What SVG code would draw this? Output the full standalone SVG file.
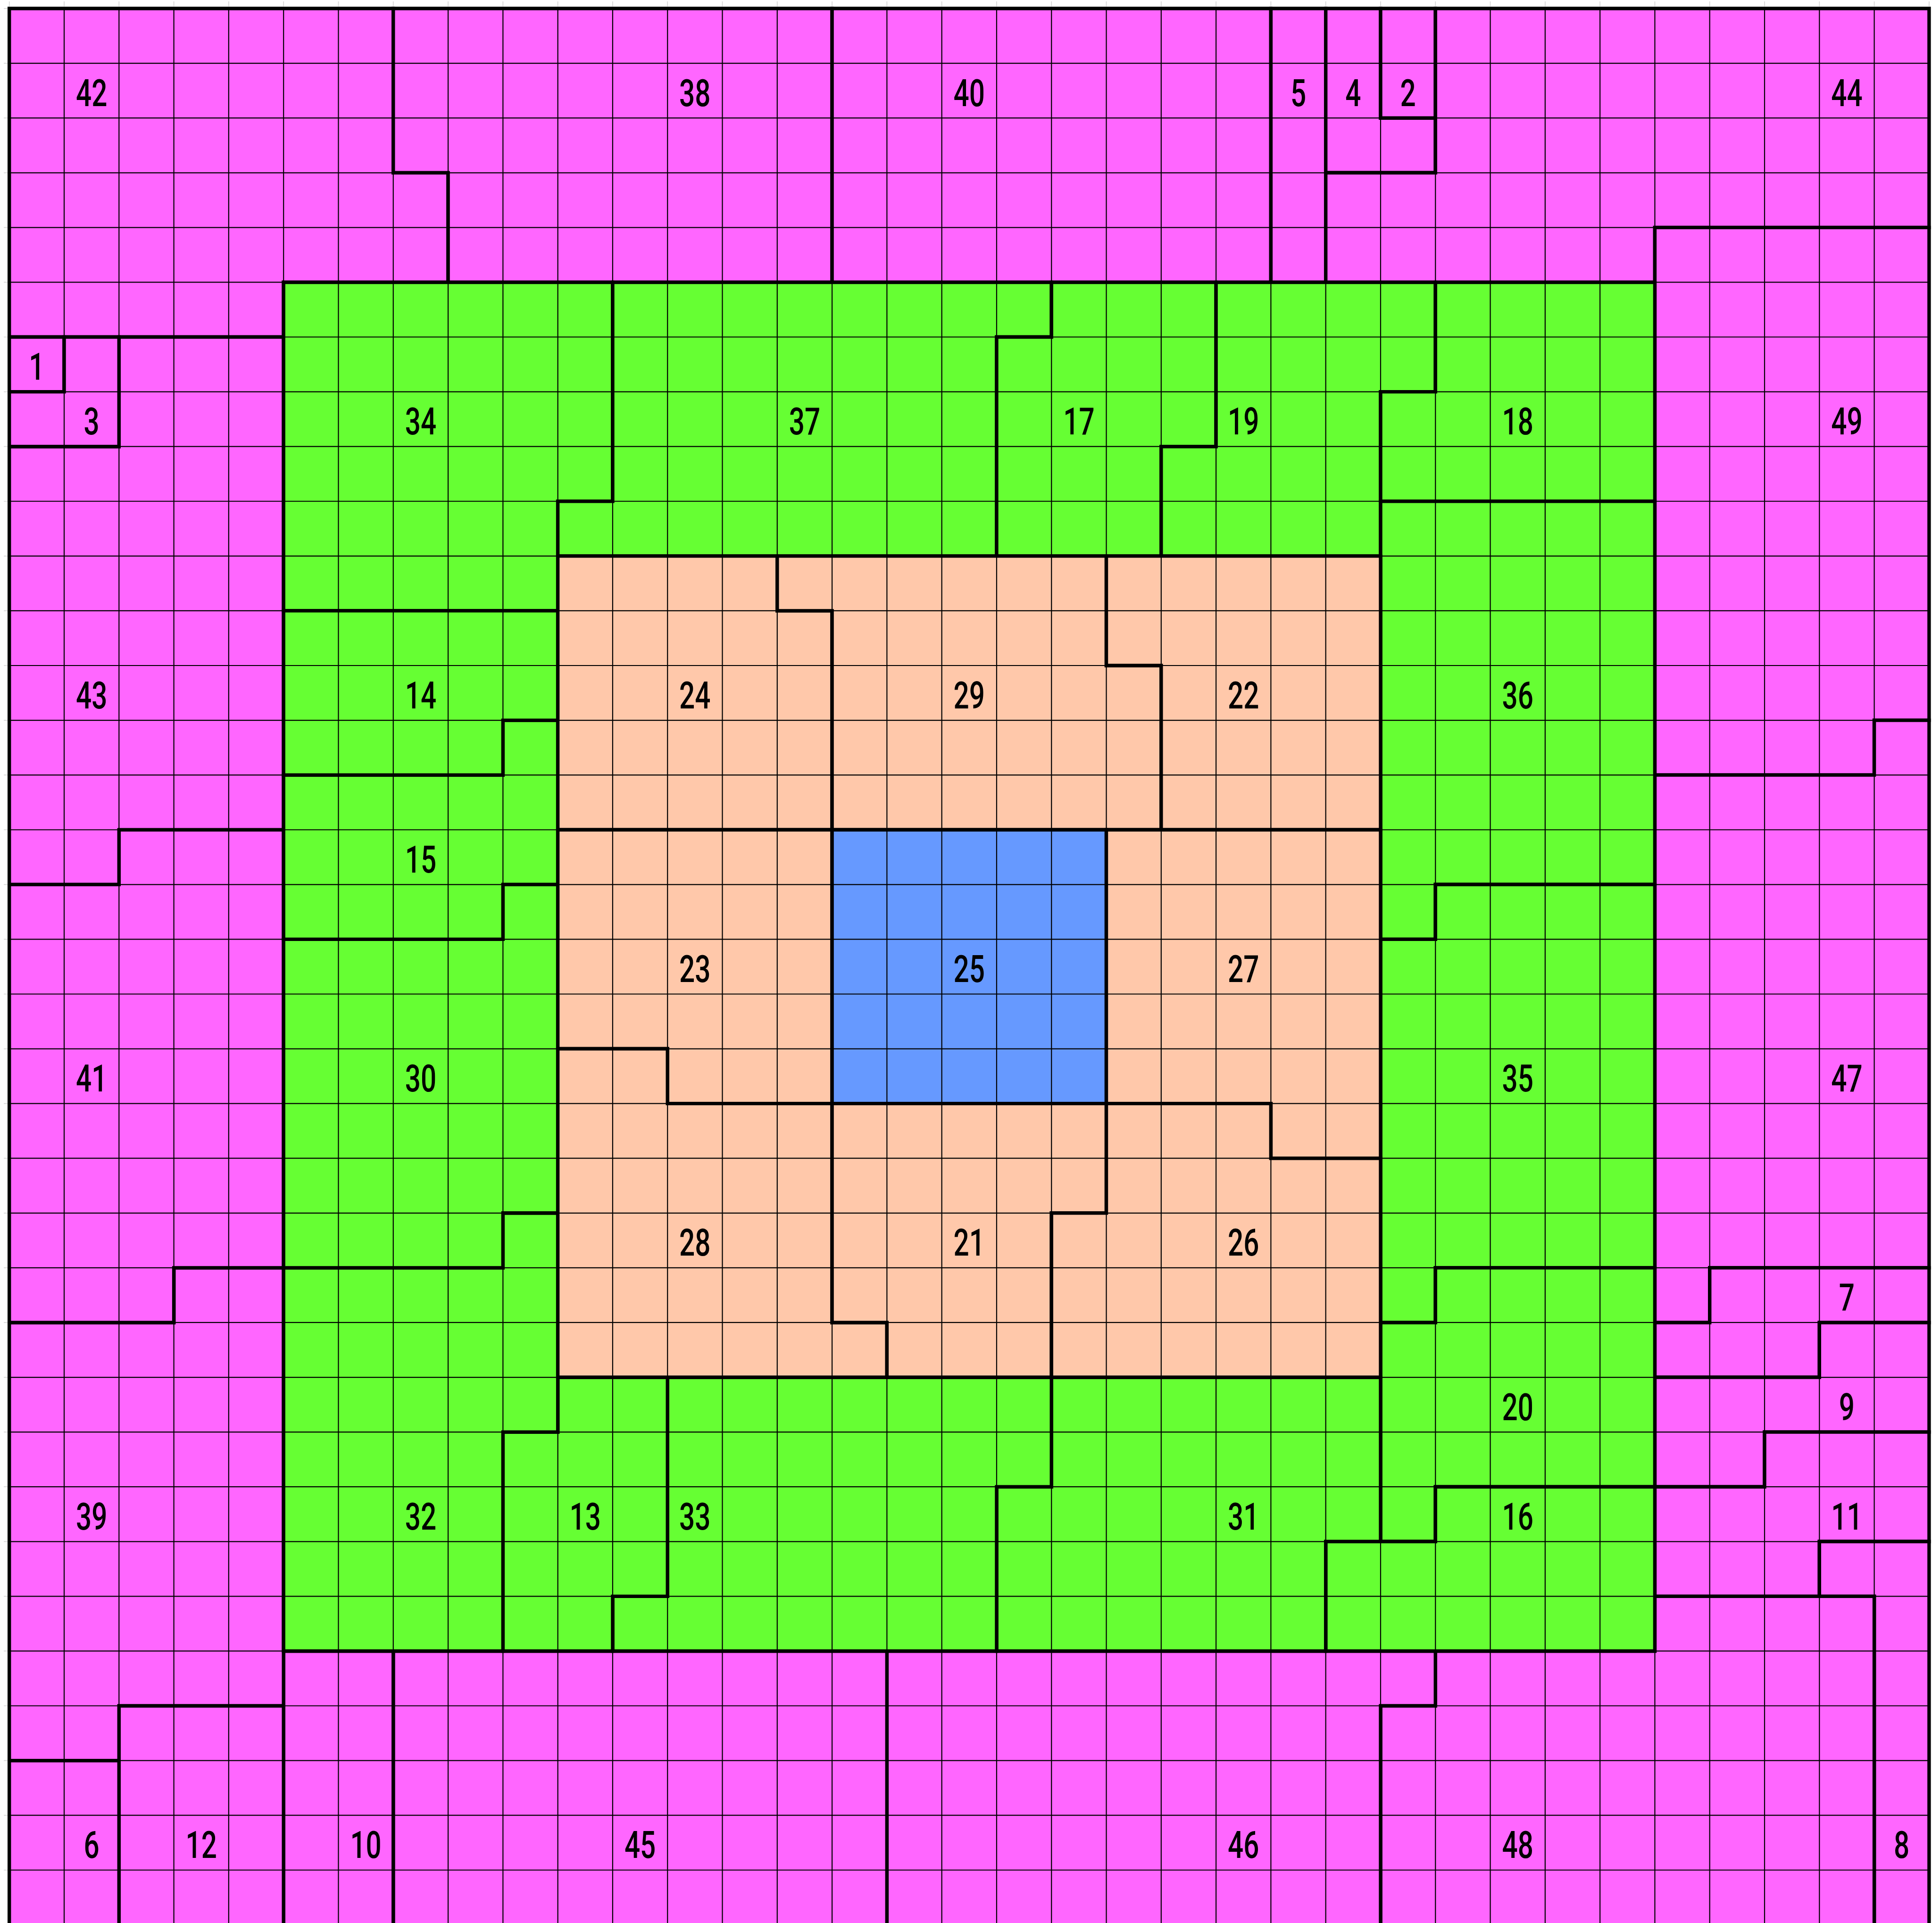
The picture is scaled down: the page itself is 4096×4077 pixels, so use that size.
<svg xmlns="http://www.w3.org/2000/svg" width="4096" height="4077" viewBox="0 0 4096 4077">
<style>
.p{stroke:#000;stroke-width:7.4;stroke-linejoin:miter;vector-effect:non-scaling-stroke}
.m{fill:#FF66FF}.g{fill:#66FF33}.o{fill:#FFC8AA}.b{fill:#6699FF}
.t{font-family:Roboto,"Liberation Sans",Arial,sans-serif;font-weight:500;font-size:80px;fill:#000;text-anchor:middle}
.gl{fill:none;stroke:#000;stroke-width:2.2;vector-effect:non-scaling-stroke}
.tk{fill:none;stroke:#d6d6d6;stroke-width:1.7;vector-effect:non-scaling-stroke}
</style>
<rect width="4096" height="4077" fill="#fff"/>
<g id="regions">
<g id="r42"><polygon class="p m" transform="matrix(116.29 0 0 116.08 19.72 18.04)" points="0,0 7,0 7,3 8,3 8,5 5,5 5,6 0,6"/><text class="t" transform="translate(194.2,224.7) scale(0.73,1)">42</text></g>
<g id="r38"><polygon class="p m" transform="matrix(116.29 0 0 116.08 19.72 18.04)" points="7,0 15,0 15,5 8,5 8,3 7,3"/><text class="t" transform="translate(1473.3,224.7) scale(0.73,1)">38</text></g>
<g id="r40"><polygon class="p m" transform="matrix(116.29 0 0 116.08 19.72 18.04)" points="15,0 23,0 23,5 15,5"/><text class="t" transform="translate(2054.8,224.7) scale(0.73,1)">40</text></g>
<g id="r5"><polygon class="p m" transform="matrix(116.29 0 0 116.08 19.72 18.04)" points="23,0 24,0 24,5 23,5"/><text class="t" transform="translate(2752.5,224.7) scale(0.73,1)">5</text></g>
<g id="r4"><polygon class="p m" transform="matrix(116.29 0 0 116.08 19.72 18.04)" points="24,0 25,0 25,2 26,2 26,3 24,3"/><text class="t" transform="translate(2868.8,224.7) scale(0.73,1)">4</text></g>
<g id="r2"><polygon class="p m" transform="matrix(116.29 0 0 116.08 19.72 18.04)" points="25,0 26,0 26,2 25,2"/><text class="t" transform="translate(2985.1,224.7) scale(0.73,1)">2</text></g>
<g id="r44"><polygon class="p m" transform="matrix(116.29 0 0 116.08 19.72 18.04)" points="26,0 35,0 35,4 30,4 30,5 24,5 24,3 26,3"/><text class="t" transform="translate(3915.4,224.7) scale(0.73,1)">44</text></g>
<g id="r49"><polygon class="p m" transform="matrix(116.29 0 0 116.08 19.72 18.04)" points="30,4 35,4 35,13 34,13 34,14 30,14"/><text class="t" transform="translate(3915.4,921.1) scale(0.73,1)">49</text></g>
<g id="r47"><polygon class="p m" transform="matrix(116.29 0 0 116.08 19.72 18.04)" points="34,13 35,13 35,23 31,23 31,24 30,24 30,14 34,14"/><text class="t" transform="translate(3915.4,2314.1) scale(0.73,1)">47</text></g>
<g id="r7"><polygon class="p m" transform="matrix(116.29 0 0 116.08 19.72 18.04)" points="31,23 35,23 35,24 33,24 33,25 30,25 30,24 31,24"/><text class="t" transform="translate(3915.4,2778.4) scale(0.73,1)">7</text></g>
<g id="r9"><polygon class="p m" transform="matrix(116.29 0 0 116.08 19.72 18.04)" points="33,24 35,24 35,26 32,26 32,27 30,27 30,25 33,25"/><text class="t" transform="translate(3915.4,3010.6) scale(0.73,1)">9</text></g>
<g id="r11"><polygon class="p m" transform="matrix(116.29 0 0 116.08 19.72 18.04)" points="32,26 35,26 35,28 33,28 33,29 30,29 30,27 32,27"/><text class="t" transform="translate(3915.4,3242.7) scale(0.73,1)">11</text></g>
<g id="r8"><polygon class="p m" transform="matrix(116.29 0 0 116.08 19.72 18.04)" points="33,28 35,28 35,35 34,35 34,29 33,29"/><text class="t" transform="translate(4031.7,3939.2) scale(0.73,1)">8</text></g>
<g id="r48"><polygon class="p m" transform="matrix(116.29 0 0 116.08 19.72 18.04)" points="30,29 34,29 34,35 25,35 25,31 26,31 26,30 30,30"/><text class="t" transform="translate(3217.7,3939.2) scale(0.73,1)">48</text></g>
<g id="r46"><polygon class="p m" transform="matrix(116.29 0 0 116.08 19.72 18.04)" points="16,30 26,30 26,31 25,31 25,35 16,35"/><text class="t" transform="translate(2636.2,3939.2) scale(0.73,1)">46</text></g>
<g id="r45"><polygon class="p m" transform="matrix(116.29 0 0 116.08 19.72 18.04)" points="7,30 16,30 16,35 7,35"/><text class="t" transform="translate(1357.1,3939.2) scale(0.73,1)">45</text></g>
<g id="r10"><polygon class="p m" transform="matrix(116.29 0 0 116.08 19.72 18.04)" points="5,30 7,30 7,35 5,35"/><text class="t" transform="translate(775.6,3939.2) scale(0.73,1)">10</text></g>
<g id="r12"><polygon class="p m" transform="matrix(116.29 0 0 116.08 19.72 18.04)" points="2,31 5,31 5,35 2,35"/><text class="t" transform="translate(426.7,3939.2) scale(0.73,1)">12</text></g>
<g id="r6"><polygon class="p m" transform="matrix(116.29 0 0 116.08 19.72 18.04)" points="0,32 2,32 2,35 0,35"/><text class="t" transform="translate(194.2,3939.2) scale(0.73,1)">6</text></g>
<g id="r39"><polygon class="p m" transform="matrix(116.29 0 0 116.08 19.72 18.04)" points="3,23 5,23 5,31 2,31 2,32 0,32 0,24 3,24"/><text class="t" transform="translate(194.2,3242.7) scale(0.73,1)">39</text></g>
<g id="r41"><polygon class="p m" transform="matrix(116.29 0 0 116.08 19.72 18.04)" points="2,15 5,15 5,23 3,23 3,24 0,24 0,16 2,16"/><text class="t" transform="translate(194.2,2314.1) scale(0.73,1)">41</text></g>
<g id="r43"><polygon class="p m" transform="matrix(116.29 0 0 116.08 19.72 18.04)" points="2,6 5,6 5,15 2,15 2,16 0,16 0,8 2,8"/><text class="t" transform="translate(194.2,1501.5) scale(0.73,1)">43</text></g>
<g id="r1"><polygon class="p m" transform="matrix(116.29 0 0 116.08 19.72 18.04)" points="0,6 1,6 1,7 0,7"/><text class="t" transform="translate(77.9,805.1) scale(0.73,1)">1</text></g>
<g id="r3"><polygon class="p m" transform="matrix(116.29 0 0 116.08 19.72 18.04)" points="1,6 2,6 2,8 0,8 0,7 1,7"/><text class="t" transform="translate(194.2,921.1) scale(0.73,1)">3</text></g>
<g id="r34"><polygon class="p g" transform="matrix(116.29 0 0 116.08 19.72 18.04)" points="5,5 11,5 11,9 10,9 10,11 5,11"/><text class="t" transform="translate(891.9,921.1) scale(0.73,1)">34</text></g>
<g id="r37"><polygon class="p g" transform="matrix(116.29 0 0 116.08 19.72 18.04)" points="11,5 19,5 19,6 18,6 18,10 10,10 10,9 11,9"/><text class="t" transform="translate(1705.9,921.1) scale(0.73,1)">37</text></g>
<g id="r17"><polygon class="p g" transform="matrix(116.29 0 0 116.08 19.72 18.04)" points="19,5 22,5 22,8 21,8 21,10 18,10 18,6 19,6"/><text class="t" transform="translate(2287.4,921.1) scale(0.73,1)">17</text></g>
<g id="r19"><polygon class="p g" transform="matrix(116.29 0 0 116.08 19.72 18.04)" points="22,5 26,5 26,7 25,7 25,10 21,10 21,8 22,8"/><text class="t" transform="translate(2636.2,921.1) scale(0.73,1)">19</text></g>
<g id="r18"><polygon class="p g" transform="matrix(116.29 0 0 116.08 19.72 18.04)" points="26,5 30,5 30,9 25,9 25,7 26,7"/><text class="t" transform="translate(3217.7,921.1) scale(0.73,1)">18</text></g>
<g id="r36"><polygon class="p g" transform="matrix(116.29 0 0 116.08 19.72 18.04)" points="25,9 30,9 30,16 26,16 26,17 25,17"/><text class="t" transform="translate(3217.7,1501.5) scale(0.73,1)">36</text></g>
<g id="r35"><polygon class="p g" transform="matrix(116.29 0 0 116.08 19.72 18.04)" points="26,16 30,16 30,23 26,23 26,24 25,24 25,17 26,17"/><text class="t" transform="translate(3217.7,2314.1) scale(0.73,1)">35</text></g>
<g id="r20"><polygon class="p g" transform="matrix(116.29 0 0 116.08 19.72 18.04)" points="26,23 30,23 30,27 26,27 26,28 25,28 25,24 26,24"/><text class="t" transform="translate(3217.7,3010.6) scale(0.73,1)">20</text></g>
<g id="r16"><polygon class="p g" transform="matrix(116.29 0 0 116.08 19.72 18.04)" points="26,27 30,27 30,30 24,30 24,28 26,28"/><text class="t" transform="translate(3217.7,3242.7) scale(0.73,1)">16</text></g>
<g id="r31"><polygon class="p g" transform="matrix(116.29 0 0 116.08 19.72 18.04)" points="19,25 25,25 25,28 24,28 24,30 18,30 18,27 19,27"/><text class="t" transform="translate(2636.2,3242.7) scale(0.73,1)">31</text></g>
<g id="r33"><polygon class="p g" transform="matrix(116.29 0 0 116.08 19.72 18.04)" points="12,25 19,25 19,27 18,27 18,30 11,30 11,29 12,29"/><text class="t" transform="translate(1473.3,3242.7) scale(0.73,1)">33</text></g>
<g id="r13"><polygon class="p g" transform="matrix(116.29 0 0 116.08 19.72 18.04)" points="10,25 12,25 12,29 11,29 11,30 9,30 9,26 10,26"/><text class="t" transform="translate(1240.8,3242.7) scale(0.73,1)">13</text></g>
<g id="r32"><polygon class="p g" transform="matrix(116.29 0 0 116.08 19.72 18.04)" points="9,22 10,22 10,26 9,26 9,30 5,30 5,23 9,23"/><text class="t" transform="translate(891.9,3242.7) scale(0.73,1)">32</text></g>
<g id="r30"><polygon class="p g" transform="matrix(116.29 0 0 116.08 19.72 18.04)" points="9,16 10,16 10,22 9,22 9,23 5,23 5,17 9,17"/><text class="t" transform="translate(891.9,2314.1) scale(0.73,1)">30</text></g>
<g id="r15"><polygon class="p g" transform="matrix(116.29 0 0 116.08 19.72 18.04)" points="9,13 10,13 10,16 9,16 9,17 5,17 5,14 9,14"/><text class="t" transform="translate(891.9,1849.8) scale(0.73,1)">15</text></g>
<g id="r14"><polygon class="p g" transform="matrix(116.29 0 0 116.08 19.72 18.04)" points="5,11 10,11 10,13 9,13 9,14 5,14"/><text class="t" transform="translate(891.9,1501.5) scale(0.73,1)">14</text></g>
<g id="r24"><polygon class="p o" transform="matrix(116.29 0 0 116.08 19.72 18.04)" points="10,10 14,10 14,11 15,11 15,15 10,15"/><text class="t" transform="translate(1473.3,1501.5) scale(0.73,1)">24</text></g>
<g id="r29"><polygon class="p o" transform="matrix(116.29 0 0 116.08 19.72 18.04)" points="14,10 20,10 20,12 21,12 21,15 15,15 15,11 14,11"/><text class="t" transform="translate(2054.8,1501.5) scale(0.73,1)">29</text></g>
<g id="r22"><polygon class="p o" transform="matrix(116.29 0 0 116.08 19.72 18.04)" points="20,10 25,10 25,15 21,15 21,12 20,12"/><text class="t" transform="translate(2636.2,1501.5) scale(0.73,1)">22</text></g>
<g id="r23"><polygon class="p o" transform="matrix(116.29 0 0 116.08 19.72 18.04)" points="10,15 15,15 15,20 12,20 12,19 10,19"/><text class="t" transform="translate(1473.3,2081.9) scale(0.73,1)">23</text></g>
<g id="r25"><polygon class="p b" transform="matrix(116.29 0 0 116.08 19.72 18.04)" points="15,15 20,15 20,20 15,20"/><text class="t" transform="translate(2054.8,2081.9) scale(0.73,1)">25</text></g>
<g id="r27"><polygon class="p o" transform="matrix(116.29 0 0 116.08 19.72 18.04)" points="20,15 25,15 25,21 23,21 23,20 20,20"/><text class="t" transform="translate(2636.2,2081.9) scale(0.73,1)">27</text></g>
<g id="r28"><polygon class="p o" transform="matrix(116.29 0 0 116.08 19.72 18.04)" points="10,19 12,19 12,20 15,20 15,24 16,24 16,25 10,25"/><text class="t" transform="translate(1473.3,2662.3) scale(0.73,1)">28</text></g>
<g id="r21"><polygon class="p o" transform="matrix(116.29 0 0 116.08 19.72 18.04)" points="15,20 20,20 20,22 19,22 19,25 16,25 16,24 15,24"/><text class="t" transform="translate(2054.8,2662.3) scale(0.73,1)">21</text></g>
<g id="r26"><polygon class="p o" transform="matrix(116.29 0 0 116.08 19.72 18.04)" points="20,20 23,20 23,21 25,21 25,25 19,25 19,22 20,22"/><text class="t" transform="translate(2636.2,2662.3) scale(0.73,1)">26</text></g>
</g>
<g id="connectors" transform="matrix(116.29 0 0 116.08 19.72 18.04)">
<path class="gl" d="M1 0V35M2 0V35M3 0V35M4 0V35M5 0V35M6 0V35M7 0V35M8 0V35M9 0V35M10 0V35M11 0V35M12 0V35M13 0V35M14 0V35M15 0V35M16 0V35M17 0V35M18 0V35M19 0V35M20 0V35M21 0V35M22 0V35M23 0V35M24 0V35M25 0V35M26 0V35M27 0V35M28 0V35M29 0V35M30 0V35M31 0V35M32 0V35M33 0V35M34 0V35M0 1H35M0 2H35M0 3H35M0 4H35M0 5H35M0 6H35M0 7H35M0 8H35M0 9H35M0 10H35M0 11H35M0 12H35M0 13H35M0 14H35M0 15H35M0 16H35M0 17H35M0 18H35M0 19H35M0 20H35M0 21H35M0 22H35M0 23H35M0 24H35M0 25H35M0 26H35M0 27H35M0 28H35M0 29H35M0 30H35M0 31H35M0 32H35M0 33H35M0 34H35"/>
<path class="tk" d="M0 -0.13V-0.04M1 -0.13V-0.04M2 -0.13V-0.04M3 -0.13V-0.04M4 -0.13V-0.04M5 -0.13V-0.04M6 -0.13V-0.04M7 -0.13V-0.04M8 -0.13V-0.04M9 -0.13V-0.04M10 -0.13V-0.04M11 -0.13V-0.04M12 -0.13V-0.04M13 -0.13V-0.04M14 -0.13V-0.04M15 -0.13V-0.04M16 -0.13V-0.04M17 -0.13V-0.04M18 -0.13V-0.04M19 -0.13V-0.04M20 -0.13V-0.04M21 -0.13V-0.04M22 -0.13V-0.04M23 -0.13V-0.04M24 -0.13V-0.04M25 -0.13V-0.04M26 -0.13V-0.04M27 -0.13V-0.04M28 -0.13V-0.04M29 -0.13V-0.04M30 -0.13V-0.04M31 -0.13V-0.04M32 -0.13V-0.04M33 -0.13V-0.04M34 -0.13V-0.04M35 -0.13V-0.04M-0.1 0H-0.035M-0.1 1H-0.035M-0.1 2H-0.035M-0.1 3H-0.035M-0.1 4H-0.035M-0.1 5H-0.035M-0.1 6H-0.035M-0.1 7H-0.035M-0.1 8H-0.035M-0.1 9H-0.035M-0.1 10H-0.035M-0.1 11H-0.035M-0.1 12H-0.035M-0.1 13H-0.035M-0.1 14H-0.035M-0.1 15H-0.035M-0.1 16H-0.035M-0.1 17H-0.035M-0.1 18H-0.035M-0.1 19H-0.035M-0.1 20H-0.035M-0.1 21H-0.035M-0.1 22H-0.035M-0.1 23H-0.035M-0.1 24H-0.035M-0.1 25H-0.035M-0.1 26H-0.035M-0.1 27H-0.035M-0.1 28H-0.035M-0.1 29H-0.035M-0.1 30H-0.035M-0.1 31H-0.035M-0.1 32H-0.035M-0.1 33H-0.035M-0.1 34H-0.035"/>
</g>
</svg>
